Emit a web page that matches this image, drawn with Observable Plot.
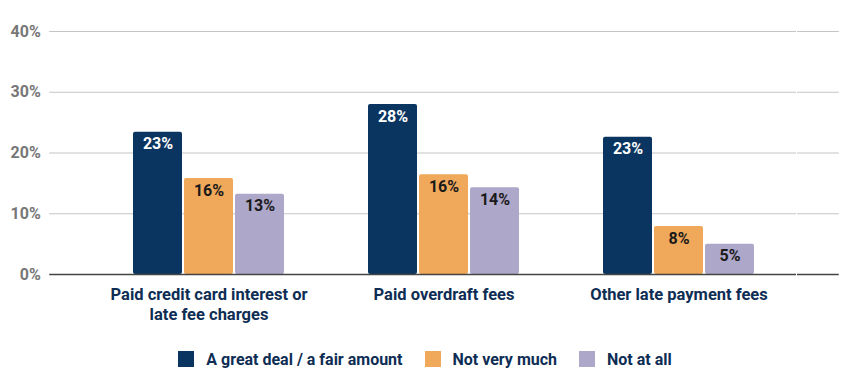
<!DOCTYPE html>
<html><head><meta charset="utf-8">
<script src="https://cdn.jsdelivr.net/npm/d3@7"></script>
<script src="https://cdn.jsdelivr.net/npm/@observablehq/plot@0.6"></script>
<style>
body{margin:0;background:#fff;font-family:Roboto,sans-serif;}
#legend{display:flex;justify-content:center;align-items:center;margin-top:19px;height:20px;font-size:16px;font-weight:bold;color:#0e2d54;}
#legend .item{display:flex;align-items:center;margin:0 11px;}
#legend .sw{width:16px;height:16px;margin-right:12px;}
</style></head><body><div id="chart"></div><div id="legend"></div>
<script>
const categories = ["Paid credit card interest or late fee charges", "Paid overdraft fees", "Other late payment fees"];
const categoryLabels = ["Paid credit card interest or\nlate fee charges", "Paid overdraft fees", "Other late payment fees"];
const series = ["A great deal / a fair amount", "Not very much", "Not at all"];
const greatDeal = [23.4, 28.0, 22.6];
const notVeryMuch = [15.8, 16.4, 7.9];
const notAtAll = [13.2, 14.3, 5.0];
const greatDealLabels = ["23%", "28%", "23%"];
const notVeryMuchLabels = ["16%", "16%", "8%"];
const notAtAllLabels = ["13%", "14%", "5%"];
const gridTicks = [10, 20, 30, 40];
const baseTick = [0];
const colors = ["#0b3561", "#f0a95a", "#ada7c9"];

const seriesValues = [greatDeal, notVeryMuch, notAtAll];
const seriesLabels = [greatDealLabels, notVeryMuchLabels, notAtAllLabels];
const rows = [];
categories.forEach((c, i) => series.forEach((s, j) => rows.push({category: c, series: s, value: seriesValues[j][i], label: seriesLabels[j][i]})));
const catRows = categories.map((c, i) => ({category: c, label: categoryLabels[i]}));

const outerPad = 0.1773;
const step = (850 - 48 - 12) / (categories.length + 2 * outerPad);
const ext = outerPad * step;
const pct = d => d + "%";
const axisText = {fill: "#777", fontSize: 16, fontWeight: "bold", label: null, tickPadding: 9};

const chart = Plot.plot({
  width: 850, height: 330,
  marginLeft: 48, marginRight: 12, marginTop: 31, marginBottom: 56,
  style: {fontFamily: "Roboto, sans-serif", background: "#fff", overflow: "visible"},
  fx: {domain: categories, paddingInner: 0, paddingOuter: outerPad, axis: null, label: null},
  x: {domain: series, paddingInner: 0.04, paddingOuter: 0.82, axis: null},
  y: {domain: [0, 40], axis: null},
  color: {domain: series, range: colors},
  marks: [
    Plot.gridY(gridTicks, {stroke: "#c4c4c4", strokeOpacity: 1, strokeWidth: 1}),
    Plot.axisY(gridTicks, {anchor: "left", tickSize: ext, stroke: "#c4c4c4", tickFormat: pct, ...axisText}),
    Plot.axisY(baseTick, {anchor: "left", tickSize: ext, stroke: "#444", strokeWidth: 1.5, tickFormat: pct, ...axisText}),
    Plot.axisY(gridTicks, {anchor: "right", tickSize: ext, stroke: "#c4c4c4", tickFormat: () => "", label: null}),
    Plot.axisY(baseTick, {anchor: "right", tickSize: ext, stroke: "#444", strokeWidth: 1.5, tickFormat: () => "", label: null}),
    Plot.barY(rows, {fx: "category", x: "series", y: "value", fill: "series", rx: 2}),
    Plot.ruleY(baseTick, {stroke: "#444", strokeWidth: 1.5}),
    Plot.text(rows.filter(d => d.series === series[0]), {fx: "category", x: "series", y: "value", text: "label", dy: 12, fill: "#fff", fontSize: 16, fontWeight: "bold"}),
    Plot.text(rows.filter(d => d.series !== series[0]), {fx: "category", x: "series", y: "value", text: "label", dy: 12, fill: "#1a1a1a", fontSize: 16, fontWeight: "bold"}),
    Plot.text(catRows, {fx: "category", text: "label", frameAnchor: "bottom", lineAnchor: "top", dy: 12, fontSize: 16.5, fontWeight: "bold", fill: "#0e2d54", lineHeight: 1.17})
  ]
});
document.getElementById("chart").appendChild(chart);

const legend = document.getElementById("legend");
series.forEach((s, i) => {
  const item = document.createElement("div");
  item.className = "item";
  const sw = document.createElement("span");
  sw.className = "sw";
  sw.style.background = colors[i];
  const t = document.createElement("span");
  t.textContent = s;
  item.appendChild(sw); item.appendChild(t);
  legend.appendChild(item);
});
</script></body></html>
